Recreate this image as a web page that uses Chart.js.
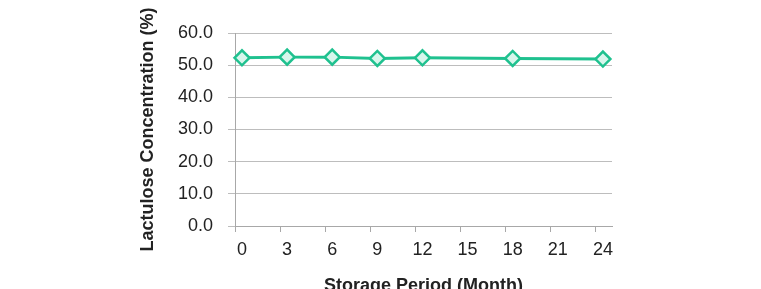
<!DOCTYPE html>
<html>
<head>
<meta charset="utf-8">
<script src="https://cdn.jsdelivr.net/npm/chart.js@4"></script>
<style>
    html, body { margin: 0; padding: 0; background: #fff; overflow: hidden; }
    canvas { display: block; }
</style>
</head>
<body>
<canvas id="lactuloseChart" width="761" height="300"></canvas>
<script>
const months = [0, 3, 6, 9, 12, 18, 24];
const concentration = [52.3, 52.5, 52.5, 52.1, 52.3, 52.1, 51.9];
const xTicks = [0, 3, 6, 9, 12, 15, 18, 21, 24];
const yTicks = [0, 10, 20, 30, 40, 50, 60];

const green = '#1fc18f';
const grey = '#bdbdbd';
const textColor = '#222';
const font = 'Liberation Sans, Arial, sans-serif';

new Chart(document.getElementById('lactuloseChart'), {
    type: 'line',
    data: {
        datasets: [{
            data: months.map((m, i) => ({ x: m, y: concentration[i] })),
            xAxisID: 'xd',
            borderColor: green,
            borderWidth: 3,
            backgroundColor: '#d8f6ec',
            pointStyle: 'rectRot',
            pointRadius: 7.5,
            pointBorderWidth: 2.5,
            pointBorderColor: green,
            pointBackgroundColor: '#d8f6ec',
            tension: 0,
            clip: false
        }]
    },
    options: {
        responsive: false,
        animation: false,
        layout: { padding: { left: 130, right: 149, top: 33, bottom: 0 } },
        plugins: { legend: { display: false }, tooltip: { enabled: false } },
        scales: {
            x: {
                type: 'linear',
                min: 0,
                max: 25.07,
                afterBuildTicks: s => { s.ticks = xTicks.map(v => ({ value: v })); },
                afterFit: s => { s.height = 74; },
                ticks: {
                    color: textColor,
                    font: { family: font, size: 18 },
                    padding: 7,
                    labelOffset: 7,
                    maxRotation: 0
                },
                grid: { drawOnChartArea: false, drawTicks: true, tickLength: 6, color: '#a8a8a8' },
                border: { display: true, color: '#a8a8a8' },
                title: {
                    display: true,
                    text: 'Storage Period (Month)',
                    color: textColor,
                    font: { family: font, size: 18, weight: 'bold' },
                    padding: { top: 0, bottom: 3 }
                }
            },
            xd: {
                type: 'linear',
                display: false,
                min: -0.465,
                max: 24.605
            },
            y: {
                min: 0,
                max: 60,
                afterBuildTicks: s => { s.ticks = yTicks.map(v => ({ value: v })); },
                afterFit: s => { s.width = 105; },
                ticks: {
                    color: textColor,
                    font: { family: font, size: 18 },
                    padding: 15,
                    callback: v => v.toFixed(1)
                },
                grid: { color: grey, tickLength: 7, drawTicks: true },
                border: { display: true, color: '#a8a8a8' },
                title: {
                    display: true,
                    text: 'Lactulose Concentration (%)',
                    color: textColor,
                    font: { family: font, size: 18, weight: 'bold' },
                    padding: { top: 7, bottom: 0 }
                }
            }
        }
    }
});
</script>
</body>
</html>
